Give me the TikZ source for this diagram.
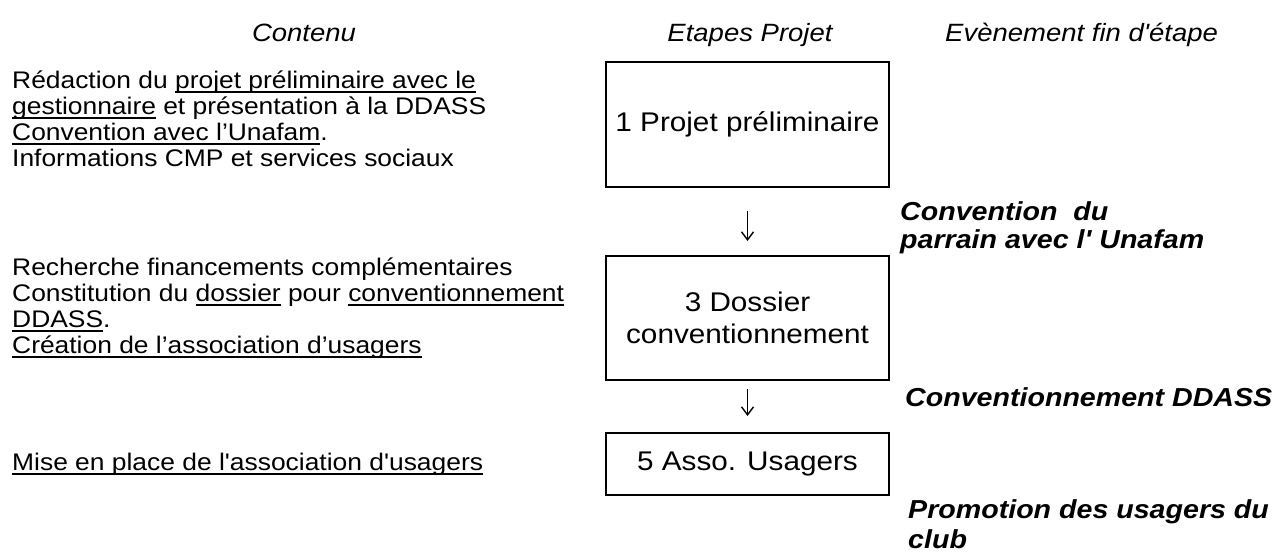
\documentclass[tikz,border=0pt]{standalone}
\usepackage{fontspec}
\usetikzlibrary{arrows.meta}
\newfontfamily\bodyf{Liberation Sans}[FakeStretch=1.1]
\newcommand\myul[1]{\setbox0\hbox{#1}\rlap{\rule[-5pt]{\wd0}{1.7pt}}\box0\relax}
\begin{document}
\begin{tikzpicture}[x=1pt,y=-1pt,
  bodytxt/.style={font=\bodyf\fontsize{24}{26}\selectfont, inner sep=0pt, anchor=base west},
  headtxt/.style={font=\bodyf\itshape\fontsize{25}{28}\selectfont, inner sep=0pt},
  evtxt/.style={font=\bodyf\bfseries\itshape\fontsize{26}{28}\selectfont, inner sep=0pt, anchor=base west},
  stagebox/.style={draw, line width=2pt, font=\bodyf\fontsize{27}{32}\selectfont, align=center, inner sep=0pt, minimum width=283pt},
  flow/.style={line width=1.4pt, -{Straight Barb[length=8pt,width=12pt,line width=1.4pt]}}
]
\useasboundingbox[fill=white] (0,0) rectangle (1278,557);
% headers
\node[headtxt, anchor=base] (h1) at (304,41) {Contenu};
\node[headtxt, anchor=base] (h2) at (750,41) {Etapes Projet};
\node[headtxt, anchor=base west] (h3) at (945,41) {Evènement fin d'étape};
% left contents
\node[bodytxt] (c1) at (12,88) {\vtop{%
  \hbox{Rédaction du \myul{projet préliminaire avec le}}
  \hbox{\myul{gestionnaire} et présentation à la DDASS}
  \hbox{\myul{Convention avec l’Unafam}.}
  \hbox{Informations CMP et services sociaux}}};
\node[bodytxt] (c2) at (12,275) {\vtop{%
  \hbox{Recherche financements complémentaires}
  \hbox{Constitution du \myul{dossier} pour \myul{conventionnement}}
  \hbox{\myul{DDASS}.}
  \hbox{\myul{Création de l’association d’usagers}}}};
\node[bodytxt] (c3) at (12,470) {\myul{Mise en place de l'association d'usagers}};
% stage boxes
\node[stagebox, minimum height=125pt] (b1) at (747.5,124.5) {1 Projet préliminaire};
\node[stagebox, minimum height=124pt] (b2) at (747.5,318) {3 Dossier\\conventionnement};
\node[stagebox, minimum height=62pt] (b3) at (747.5,464) {5 Asso. Usagers};
% arrows
\draw[flow, shorten <=23pt, shorten >=14pt] (b1) -- (b2);
\draw[flow, shorten <=8pt, shorten >=16pt] (b2) -- (b3);
% events
\node[evtxt] (e1) at (900,220) {\vtop{\hbox{Convention\ \ du}\hbox{parrain avec l' Unafam}}};
\node[evtxt] (e2) at (905,406) {Conventionnement DDASS};
\node[evtxt] (e3) at (908,518) {\vtop{\baselineskip=30pt\hbox{Promotion des usagers du}\hbox{club}}};
\end{tikzpicture}
\end{document}
